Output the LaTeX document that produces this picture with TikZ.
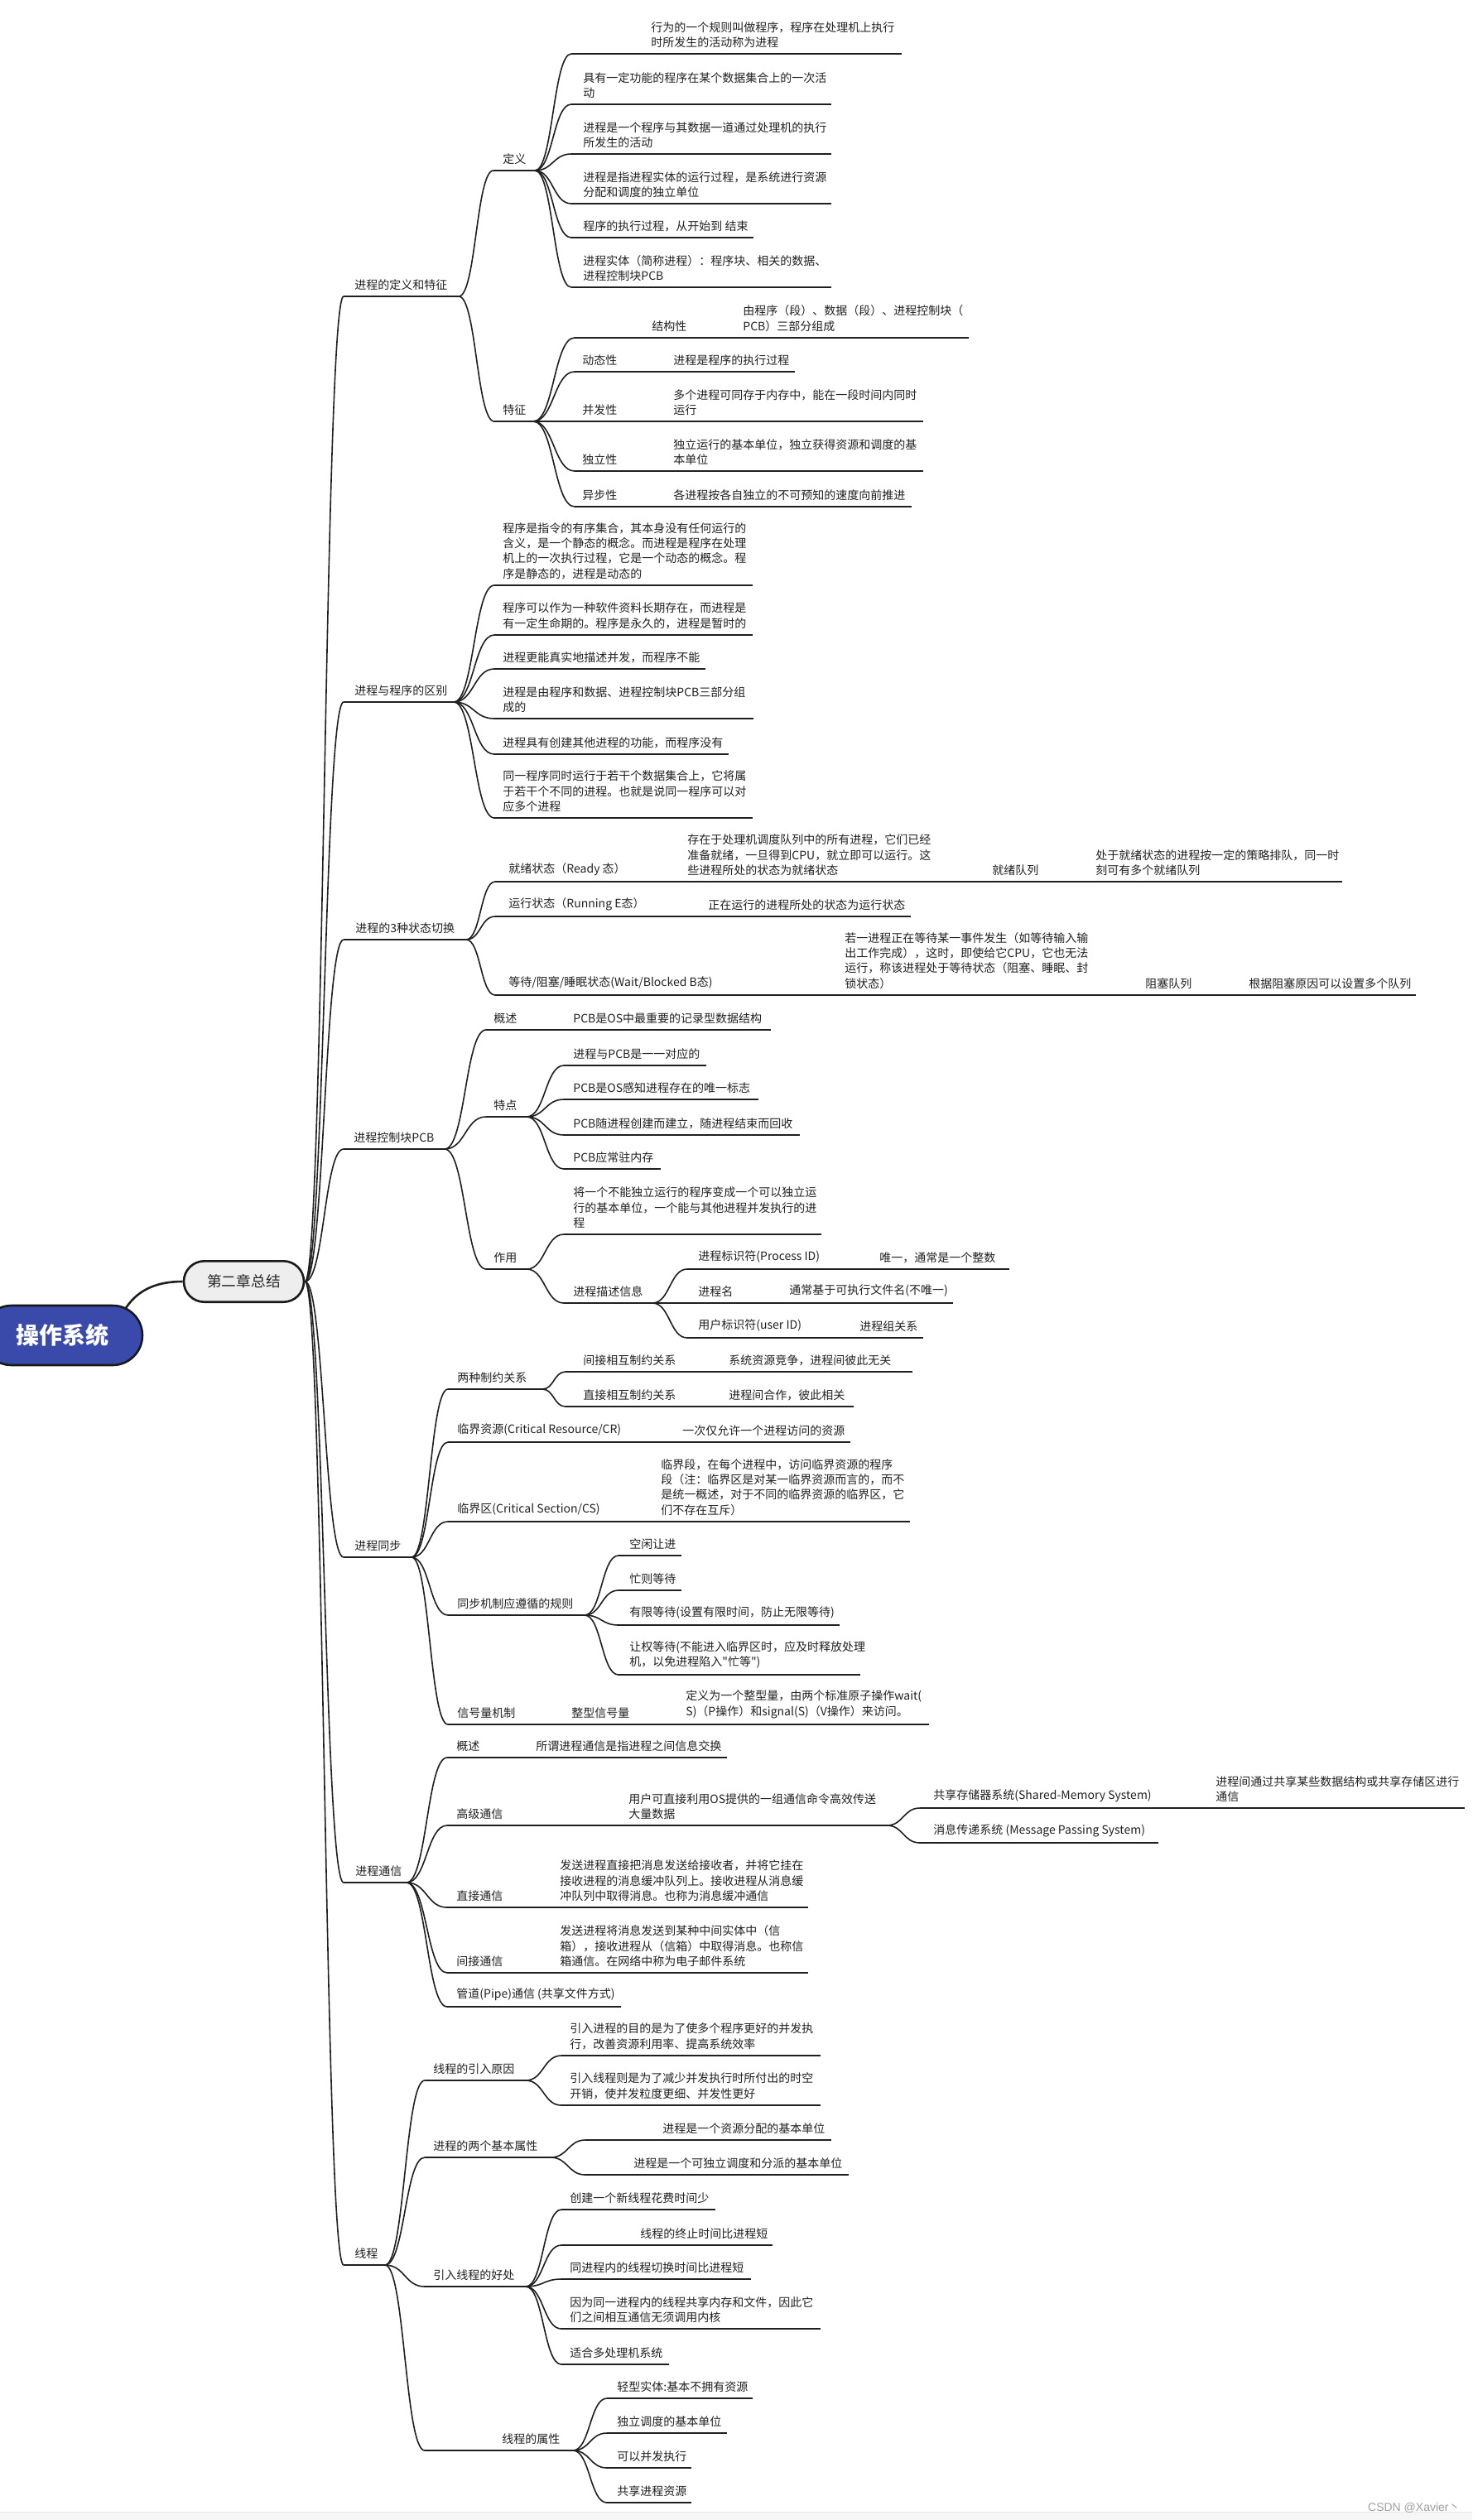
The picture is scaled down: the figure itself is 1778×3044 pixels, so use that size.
\documentclass[tikz,border=0pt]{standalone}
\usepackage{fontspec}
\setmainfont{Noto Sans CJK SC}
\newfontfamily\cjkf{Noto Sans CJK SC}
\newfontfamily\libsans{Liberation Sans}
\usetikzlibrary{calc,shapes.misc}
\definecolor{rootblue}{RGB}{58,74,170}
\definecolor{chgray}{RGB}{238,238,238}
\tikzset{
  uline/.style={line width=0.8pt, draw=black!88},
  branch/.style={line width=0.8pt, draw=black!88},
  txt/.style={anchor=south west, inner sep=0pt, align=left, font=\cjkf\fontsize{7pt}{9.15pt}\selectfont, text=black!87},
}
% name, x-start, x-end, y-line, x-text, text
\newcommand\MMn[6]{%
  \coordinate (#1) at (#2,#4);
  \coordinate (#1-e) at (#3,#4);
  \draw[uline] (#1) -- (#1-e);
  \node[txt] (#1-t) at (#5,#4-7) {#6};}
\newcommand\MMc[2]{%
  \path ($(#1)!0.5!(#2)$) coordinate (mc);
  \draw[branch] (#1) .. controls (mc |- #1) and (mc |- #2) .. (#2);}
\begin{document}
\begin{tikzpicture}[x=0.5pt,y=-0.5pt]
\useasboundingbox (0,0) rectangle (1778,3044);
\fill[white] (0,0) rectangle (1778,3044);
\fill[gray!7] (0,3034) rectangle (1778,3044);
\draw[gray!18, line width=0.5pt] (0,3034) -- (1778,3034);
\node[anchor=base east, inner sep=0pt, font=\fontsize{7pt}{8pt}\selectfont, text=gray!75] (wm) at (1764,3033) {\libsans CSDN @Xavier\cjkf 丶};

% root and chapter
\node[rounded rectangle, draw=black!90, line width=1.3pt, fill=rootblue, minimum width=97pt, minimum height=36pt, inner sep=0pt, text=white, font=\cjkf\fontsize{14pt}{16pt}\selectfont\bfseries] (root) at (75,1613) {操作系统};
\node[rounded rectangle, draw=black!90, line width=1.3pt, fill=chgray, minimum width=72.5pt, minimum height=24.7pt, inner sep=0pt, font=\cjkf\fontsize{8.85pt}{10pt}\selectfont, text=black!85] (ch) at (294.5,1548) {第二章总结};
\coordinate (rc) at (152,1580);
\draw[branch, line width=1.3pt] (rc) .. controls (168,1556) and (192,1548) .. (ch.west);

% level 1
\MMn{L1a}{415}{554}{358}{428}{进程的定义和特征}
\MMn{L1b}{415}{548}{848}{428}{进程与程序的区别}
\MMn{L1c}{415}{563}{1135}{429}{进程的3种状态切换}
\MMn{L1d}{415}{537}{1388}{427}{进程控制块PCB}
\MMn{L1e}{415}{497}{1881}{428}{进程同步}
\MMn{L1f}{415}{491}{2274}{429}{进程通信}
\MMn{L1g}{415}{465}{2736}{428}{线程}
\MMc{ch.east}{L1a}\MMc{ch.east}{L1b}\MMc{ch.east}{L1c}\MMc{ch.east}{L1d}
\MMc{ch.east}{L1e}\MMc{ch.east}{L1f}\MMc{ch.east}{L1g}

% ---- 进程的定义和特征
\MMn{A1}{596}{646}{206}{607}{定义}
\MMn{A2}{597}{644}{509}{607}{特征}
\MMc{L1a-e}{A1}\MMc{L1a-e}{A2}
\MMn{A1a}{690}{1089}{65}{786}{行为的一个规则叫做程序，程序在处理机上执行\\时所发生的活动称为进程}
\MMn{A1b}{690}{1004}{126}{704}{具有一定功能的程序在某个数据集合上的一次活\\动}
\MMn{A1c}{690}{1004}{186}{704}{进程是一个程序与其数据一道通过处理机的执行\\所发生的活动}
\MMn{A1d}{690}{1004}{246}{704}{进程是指进程实体的运行过程，是系统进行资源\\分配和调度的独立单位}
\MMn{A1e}{690}{910}{287}{704}{程序的执行过程，从开始到 结束}
\MMn{A1f}{690}{1004}{347}{704}{进程实体（简称进程）：程序块、相关的数据、\\进程控制块PCB}
\MMc{A1-e}{A1a}\MMc{A1-e}{A1b}\MMc{A1-e}{A1c}\MMc{A1-e}{A1d}\MMc{A1-e}{A1e}\MMc{A1-e}{A1f}
\MMn{A2a}{694}{885}{408}{787}{结构性}
\MMn{A2ax}{885}{1170}{408}{897}{由程序（段）、数据（段）、进程控制块（\\PCB）三部分组成}
\MMn{A2b}{694}{805}{449}{703}{动态性}
\MMn{A2bx}{805}{960}{449}{813}{进程是程序的执行过程}
\MMn{A2c}{694}{805}{509}{703}{并发性}
\MMn{A2cx}{805}{1115}{509}{813}{多个进程可同存于内存中，能在一段时间内同时\\运行}
\MMn{A2d}{694}{805}{569}{703}{独立性}
\MMn{A2dx}{805}{1115}{569}{813}{独立运行的基本单位，独立获得资源和调度的基\\本单位}
\MMn{A2e}{694}{805}{612}{703}{异步性}
\MMn{A2ex}{805}{1101}{612}{813}{各进程按各自独立的不可预知的速度向前推进}
\MMc{A2-e}{A2a}\MMc{A2-e}{A2b}\MMc{A2-e}{A2c}\MMc{A2-e}{A2d}\MMc{A2-e}{A2e}
\MMc{A2a-e}{A2ax}\MMc{A2b-e}{A2bx}\MMc{A2c-e}{A2cx}\MMc{A2d-e}{A2dx}\MMc{A2e-e}{A2ex}

% ---- 进程与程序的区别
\MMn{B1}{597}{909}{707}{607}{程序是指令的有序集合，其本身没有任何运行的\\含义，是一个静态的概念。而进程是程序在处理\\机上的一次执行过程，它是一个动态的概念。程\\序是静态的，进程是动态的}
\MMn{B2}{597}{909}{767}{607}{程序可以作为一种软件资料长期存在，而进程是\\有一定生命期的。程序是永久的，进程是暂时的}
\MMn{B3}{597}{852}{808}{607}{进程更能真实地描述并发，而程序不能}
\MMn{B4}{597}{910}{868}{607}{进程是由程序和数据、进程控制块PCB三部分组\\成的}
\MMn{B5}{597}{880}{911}{607}{进程具有创建其他进程的功能，而程序没有}
\MMn{B6}{597}{909}{988}{607}{同一程序同时运行于若干个数据集合上，它将属\\于若干个不同的进程。也就是说同一程序可以对\\应多个进程}
\MMc{L1b-e}{B1}\MMc{L1b-e}{B2}\MMc{L1b-e}{B3}\MMc{L1b-e}{B4}\MMc{L1b-e}{B5}\MMc{L1b-e}{B6}

% ---- 进程的3种状态切换
\MMn{C1}{598}{820}{1065}{614}{就绪状态（Ready 态）}
\MMn{C1x}{820}{1190}{1065}{830}{存在于处理机调度队列中的所有进程，它们已经\\准备就绪，一旦得到CPU，就立即可以运行。这\\些进程所处的状态为就绪状态}
\MMn{C1y}{1190}{1313}{1065}{1198}{就绪队列}
\MMn{C1z}{1313}{1621}{1065}{1323}{处于就绪状态的进程按一定的策略排队，同一时\\刻可有多个就绪队列}
\MMn{C2}{598}{845}{1107}{614}{运行状态（Running E态）}
\MMn{C2x}{845}{1100}{1107}{855}{正在运行的进程所处的状态为运行状态}
\MMn{C3}{598}{1010}{1202}{614}{等待/阻塞/睡眠状态(Wait/Blocked B态)}
\MMn{C3x}{1010}{1373}{1202}{1020}{若一进程正在等待某一事件发生（如等待输入输\\出工作完成），这时，即使给它CPU，它也无法\\运行，称该进程处于等待状态（阻塞、睡眠、封\\锁状态）}
\MMn{C3y}{1373}{1498}{1202}{1383}{阻塞队列}
\MMn{C3z}{1498}{1710}{1202}{1508}{根据阻塞原因可以设置多个队列}
\MMc{L1c-e}{C1}\MMc{L1c-e}{C2}\MMc{L1c-e}{C3}
\MMc{C1-e}{C1x}\MMc{C1x-e}{C1y}\MMc{C1y-e}{C1z}\MMc{C2-e}{C2x}
\MMc{C3-e}{C3x}\MMc{C3x-e}{C3y}\MMc{C3y-e}{C3z}

% ---- 进程控制块PCB
\MMn{D1}{587}{682}{1244}{596}{概述}
\MMn{D1x}{682}{931}{1244}{692}{PCB是OS中最重要的记录型数据结构}
\MMn{D2}{587}{636}{1349}{596}{特点}
\MMn{D2a}{681}{853}{1287}{692}{进程与PCB是一一对应的}
\MMn{D2b}{681}{916}{1328}{692}{PCB是OS感知进程存在的唯一标志}
\MMn{D2c}{681}{966}{1371}{692}{PCB随进程创建而建立，随进程结束而回收}
\MMn{D2d}{681}{798}{1412}{692}{PCB应常驻内存}
\MMn{D3}{587}{636}{1533}{596}{作用}
\MMn{D3a}{681}{992}{1491}{692}{将一个不能独立运行的程序变成一个可以独立运\\行的基本单位，一个能与其他进程并发执行的进\\程}
\MMn{D3b}{681}{788}{1574}{692}{进程描述信息}
\MMn{D3ba}{830}{1052}{1533}{843}{进程标识符(Process ID)}
\MMn{D3bax}{1052}{1219}{1533}{1062}{唯一，通常是一个整数}
\MMn{D3bb}{830}{943}{1574}{843}{进程名}
\MMn{D3bbx}{943}{1151}{1574}{953}{通常基于可执行文件名(不唯一)}
\MMn{D3bc}{830}{1028}{1616}{843}{用户标识符(user ID)}
\MMn{D3bcx}{1028}{1115}{1616}{1038}{进程组关系}
\MMc{L1d-e}{D1}\MMc{L1d-e}{D2}\MMc{L1d-e}{D3}\MMc{D1-e}{D1x}
\MMc{D2-e}{D2a}\MMc{D2-e}{D2b}\MMc{D2-e}{D2c}\MMc{D2-e}{D2d}
\MMc{D3-e}{D3a}\MMc{D3-e}{D3b}
\MMc{D3b-e}{D3ba}\MMc{D3b-e}{D3bb}\MMc{D3b-e}{D3bc}
\MMc{D3ba-e}{D3bax}\MMc{D3bb-e}{D3bbx}\MMc{D3bc-e}{D3bcx}

% ---- 进程同步
\MMn{E1}{541}{655}{1678}{552}{两种制约关系}
\MMn{E1a}{683}{870}{1657}{704}{间接相互制约关系}
\MMn{E1ax}{870}{1102}{1657}{880}{系统资源竞争，进程间彼此无关}
\MMn{E1b}{683}{870}{1699}{704}{直接相互制约关系}
\MMn{E1bx}{870}{1031}{1699}{880}{进程间合作，彼此相关}
\MMn{E2}{541}{814}{1742}{552}{临界资源(Critical Resource/CR)}
\MMn{E2x}{814}{1027}{1742}{824}{一次仅允许一个进程访问的资源}
\MMn{E3}{541}{788}{1838}{552}{临界区(Critical Section/CS)}
\MMn{E3x}{788}{1099}{1838}{798}{临界段，在每个进程中，访问临界资源的程序\\段（注：临界区是对某一临界资源而言的，而不\\是统一概述，对于不同的临界资源的临界区，它\\们不存在互斥）}
\MMn{E4}{541}{706}{1951}{552}{同步机制应遵循的规则}
\MMn{E4a}{747}{823}{1879}{760}{空闲让进}
\MMn{E4b}{747}{823}{1921}{760}{忙则等待}
\MMn{E4c}{747}{1014}{1963}{760}{有限等待(设置有限时间，防止无限等待)}
\MMn{E4d}{747}{1039}{2023}{760}{让权等待(不能进入临界区时，应及时释放处理\\机，以免进程陷入"忙等")}
\MMn{E5}{541}{680}{2083}{552}{信号量机制}
\MMn{E5x}{680}{818}{2083}{690}{整型信号量}
\MMn{E5y}{818}{1122}{2083}{828}{定义为一个整型量，由两个标准原子操作wait(\\S)（P操作）和signal(S)（V操作）来访问。}
\MMc{L1e-e}{E1}\MMc{L1e-e}{E2}\MMc{L1e-e}{E3}\MMc{L1e-e}{E4}\MMc{L1e-e}{E5}
\MMc{E1-e}{E1a}\MMc{E1-e}{E1b}\MMc{E1a-e}{E1ax}\MMc{E1b-e}{E1bx}
\MMc{E2-e}{E2x}\MMc{E3-e}{E3x}
\MMc{E4-e}{E4a}\MMc{E4-e}{E4b}\MMc{E4-e}{E4c}\MMc{E4-e}{E4d}
\MMc{E5-e}{E5x}\MMc{E5x-e}{E5y}

% ---- 进程通信
\MMn{F1}{540}{637}{2123}{551}{概述}
\MMn{F1x}{637}{878}{2123}{647}{所谓进程通信是指进程之间信息交换}
\MMn{F2}{540}{749}{2205}{551}{高级通信}
\MMn{F2x}{749}{1071}{2205}{759}{用户可直接利用OS提供的一组通信命令高效传送\\大量数据}
\MMn{F2a}{1111}{1458}{2184}{1127}{共享存储器系统(Shared-Memory System)}
\MMn{F2ax}{1458}{1769}{2184}{1468}{进程间通过共享某些数据结构或共享存储区进行\\通信}
\MMn{F2b}{1111}{1399}{2226}{1127}{消息传递系统 (Message Passing System)}
\MMn{F3}{540}{666}{2304}{551}{直接通信}
\MMn{F3x}{666}{976}{2304}{676}{发送进程直接把消息发送给接收者，并将它挂在\\接收进程的消息缓冲队列上。接收进程从消息缓\\冲队列中取得消息。也称为消息缓冲通信}
\MMn{F4}{540}{666}{2383}{551}{间接通信}
\MMn{F4x}{666}{976}{2383}{676}{发送进程将消息发送到某种中间实体中（信\\箱），接收进程从（信箱）中取得消息。也称信\\箱通信。在网络中称为电子邮件系统}
\MMn{F5}{540}{750}{2424}{551}{管道(Pipe)通信 (共享文件方式)}
\MMc{L1f-e}{F1}\MMc{L1f-e}{F2}\MMc{L1f-e}{F3}\MMc{L1f-e}{F4}\MMc{L1f-e}{F5}
\MMc{F1-e}{F1x}\MMc{F2-e}{F2x}\MMc{F2x-e}{F2a}\MMc{F2x-e}{F2b}\MMc{F2a-e}{F2ax}
\MMc{F3-e}{F3x}\MMc{F4-e}{F4x}

% ---- 线程
\MMn{G1}{513}{635}{2513}{523}{线程的引入原因}
\MMn{G1a}{678}{991}{2483}{688}{引入进程的目的是为了使多个程序更好的并发执\\行，改善资源利用率、提高系统效率}
\MMn{G1b}{678}{991}{2543}{688}{引入线程则是为了减少并发执行时所付出的时空\\开销，使并发粒度更细、并发性更好}
\MMn{G2}{513}{665}{2606}{523}{进程的两个基本属性}
\MMn{G2a}{707}{1004}{2585}{800}{进程是一个资源分配的基本单位}
\MMn{G2b}{707}{1025}{2627}{765}{进程是一个可独立调度和分派的基本单位}
\MMn{G3}{513}{635}{2762}{523}{引入线程的好处}
\MMn{G3a}{678}{864}{2669}{688}{创建一个新线程花费时间少}
\MMn{G3b}{678}{933}{2712}{773}{线程的终止时间比进程短}
\MMn{G3c}{678}{907}{2753}{688}{同进程内的线程切换时间比进程短}
\MMn{G3d}{678}{991}{2813}{688}{因为同一进程内的线程共享内存和文件，因此它\\们之间相互通信无须调用内核}
\MMn{G3e}{678}{808}{2856}{688}{适合多处理机系统}
\MMn{G4}{513}{692}{2960}{606}{线程的属性}
\MMn{G4a}{733}{909}{2897}{745}{轻型实体:基本不拥有资源}
\MMn{G4b}{733}{878}{2939}{745}{独立调度的基本单位}
\MMn{G4c}{733}{835}{2981}{745}{可以并发执行}
\MMn{G4d}{733}{835}{3023}{745}{共享进程资源}
\MMc{L1g-e}{G1}\MMc{L1g-e}{G2}\MMc{L1g-e}{G3}\MMc{L1g-e}{G4}
\MMc{G1-e}{G1a}\MMc{G1-e}{G1b}\MMc{G2-e}{G2a}\MMc{G2-e}{G2b}
\MMc{G3-e}{G3a}\MMc{G3-e}{G3b}\MMc{G3-e}{G3c}\MMc{G3-e}{G3d}\MMc{G3-e}{G3e}
\MMc{G4-e}{G4a}\MMc{G4-e}{G4b}\MMc{G4-e}{G4c}\MMc{G4-e}{G4d}
\end{tikzpicture}
\end{document}
